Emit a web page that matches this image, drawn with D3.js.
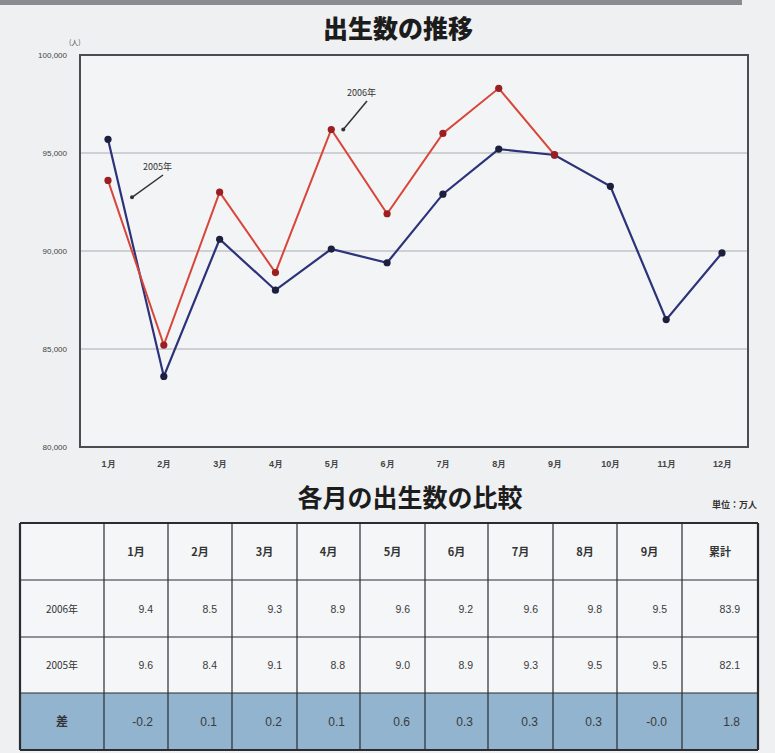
<!DOCTYPE html>
<html>
<head>
<meta charset="utf-8">
<script src="https://cdn.jsdelivr.net/npm/d3@7"></script>
<style>
  html, body { margin: 0; padding: 0; background: #eef0f2; }
  svg { display: block; font-family: "Noto Sans CJK JP", "Noto Sans", sans-serif; }
</style>
</head>
<body>
<svg id="chart" width="775" height="753"></svg>
<script>
// Monthly births (persons)
const months = ["1月","2月","3月","4月","5月","6月","7月","8月","9月","10月","11月","12月"];
const births2005 = [95700, 83600, 90600, 88000, 90100, 89400, 92900, 95200, 94900, 93300, 86500, 89900];
const births2006 = [93600, 85200, 93000, 88900, 96200, 91900, 96000, 98300, 94900];
const yTicks = [80000, 85000, 90000, 95000, 100000];

// Comparison table (10,000 persons)
const tableCols = ["1月","2月","3月","4月","5月","6月","7月","8月","9月","累計"];
const row2006 = ["9.4","8.5","9.3","8.9","9.6","9.2","9.6","9.8","9.5","83.9"];
const row2005 = ["9.6","8.4","9.1","8.8","9.0","8.9","9.3","9.5","9.5","82.1"];
const rowDiff = ["-0.2","0.1","0.2","0.1","0.6","0.3","0.3","0.3","-0.0","1.8"];
const rowLabels = ["2006年","2005年","差"];

const svg = d3.select("#chart");

// top rule
svg.append("rect").attr("x", 0).attr("y", 0).attr("width", 742).attr("height", 5).attr("fill", "#8a8c90");

// Title
svg.append("text").attr("x", 398).attr("y", 38).attr("text-anchor", "middle")
  .attr("font-size", 25).attr("font-weight", "900").attr("fill", "#1c1c1c").text("出生数の推移");

// Plot area
const plot = { left: 80, right: 748, top: 55, bottom: 447 };
const x = d3.scalePoint().domain(months).range([108, 722]);
const y = d3.scaleLinear().domain([80000, 100000]).range([plot.bottom, plot.top]);

svg.append("rect").attr("x", plot.left).attr("y", plot.top)
  .attr("width", plot.right - plot.left).attr("height", plot.bottom - plot.top)
  .attr("fill", "#f3f4f6");

// gridlines
svg.append("g").selectAll("line").data(yTicks.filter(d => d > 80000 && d < 100000)).join("line")
  .attr("x1", plot.left).attr("x2", plot.right)
  .attr("y1", d => y(d)).attr("y2", d => y(d))
  .attr("stroke", "#a9abb0").attr("stroke-width", 1.2);

// frame
svg.append("rect").attr("x", plot.left).attr("y", plot.top)
  .attr("width", plot.right - plot.left).attr("height", plot.bottom - plot.top)
  .attr("fill", "none").attr("stroke", "#4a4c50").attr("stroke-width", 2);

// y axis labels
const yAxis = d3.axisLeft(y).tickValues(yTicks).tickFormat(d3.format(",")).tickSize(0).tickPadding(13);
const yg = svg.append("g").attr("transform", `translate(${plot.left},0)`).call(yAxis);
yg.select(".domain").remove();
yg.selectAll("text").attr("font-size", 8).attr("fill", "#444").attr("font-family", "Liberation Sans, Arial, sans-serif");
svg.append("text").attr("x", 69).attr("y", 45).attr("font-size", 7).attr("fill", "#555").text("(人)");

// x axis labels
const xAxis = d3.axisBottom(x).tickSize(0).tickPadding(14);
const xg = svg.append("g").attr("transform", `translate(0,${plot.bottom})`).call(xAxis);
xg.select(".domain").remove();
xg.selectAll("text").attr("font-size", 9).attr("font-weight", "bold").attr("fill", "#444");

// lines
const line = d3.line().x((d, i) => x(months[i])).y(d => y(d));
svg.append("path").datum(births2005).attr("d", line).attr("fill", "none")
  .attr("stroke", "#2c3378").attr("stroke-width", 2.2);
svg.append("path").datum(births2006).attr("d", line).attr("fill", "none")
  .attr("stroke", "#d8463a").attr("stroke-width", 2);

svg.append("g").selectAll("circle").data(births2005).join("circle")
  .attr("cx", (d, i) => x(months[i])).attr("cy", d => y(d)).attr("r", 3.6).attr("fill", "#1d1f3e");
svg.append("g").selectAll("circle").data(births2006).join("circle")
  .attr("cx", (d, i) => x(months[i])).attr("cy", d => y(d)).attr("r", 3.6).attr("fill", "#9a1f22");

// series call-outs
function callout(label, tx, ty, idx, series, dx, dy) {
  const px = x(months[idx]) + dx, py = y(series[idx]) + dy;
  svg.append("text").attr("x", tx).attr("y", ty).attr("font-size", 9).attr("fill", "#333").text(label);
  svg.append("line").attr("x1", tx + 20).attr("y1", ty + 5).attr("x2", px).attr("y2", py)
    .attr("stroke", "#333").attr("stroke-width", 1.5);
  svg.append("circle").attr("cx", px).attr("cy", py).attr("r", 2).attr("fill", "#333");
}
callout("2006年", 347, 96, 4, births2006, 12, 0);
callout("2005年", 143, 170, 0, births2005, 24, 58);

// Table heading
svg.append("text").attr("x", 410).attr("y", 507).attr("text-anchor", "middle")
  .attr("font-size", 25).attr("font-weight", "bold").attr("fill", "#1c1c1c").text("各月の出生数の比較");
svg.append("text").attr("x", 757).attr("y", 508).attr("text-anchor", "end")
  .attr("font-size", 9).attr("font-weight", "bold").attr("fill", "#333").text("単位：万人");

// Table
const colEdges = [20, 104, 168, 232, 297, 360, 425, 488, 553, 617, 682, 758];
const rowEdges = [523, 580, 637, 693, 750];
const table = svg.append("g");
table.append("rect").attr("x", colEdges[0]).attr("y", rowEdges[0])
  .attr("width", colEdges[11] - colEdges[0]).attr("height", rowEdges[4] - rowEdges[0]).attr("fill", "#f5f6f8");
table.append("rect").attr("x", colEdges[0]).attr("y", rowEdges[3])
  .attr("width", colEdges[11] - colEdges[0]).attr("height", rowEdges[4] - rowEdges[3]).attr("fill", "#92b4cf");

table.selectAll(".v").data(colEdges).join("line")
  .attr("x1", d => d).attr("x2", d => d).attr("y1", rowEdges[0]).attr("y2", rowEdges[4])
  .attr("stroke", "#2a2c30").attr("stroke-width", (d, i) => (i === 0 || i === 11) ? 2.2 : 1.2);
table.selectAll(".h").data(rowEdges).join("line")
  .attr("x1", colEdges[0]).attr("x2", colEdges[11]).attr("y1", d => d).attr("y2", d => d)
  .attr("stroke", "#2a2c30").attr("stroke-width", (d, i) => (i === 0 || i === 4) ? 2.2 : 1.2);

const mid = (a, i) => (a[i] + a[i + 1]) / 2;
table.selectAll(".ch").data(tableCols).join("text")
  .attr("x", (d, i) => mid(colEdges, i + 1)).attr("y", mid(rowEdges, 0) + 4)
  .attr("text-anchor", "middle").attr("font-size", 11).attr("font-weight", "bold").attr("fill", "#333").text(d => d);

table.selectAll(".rl").data(rowLabels).join("text")
  .attr("x", mid(colEdges, 0)).attr("y", (d, i) => mid(rowEdges, i + 1) + 4)
  .attr("text-anchor", "middle").attr("font-size", d => d === "差" ? 12 : 10)
  .attr("font-weight", d => d === "差" ? "bold" : "normal").attr("fill", "#333").text(d => d);

[row2006, row2005, rowDiff].forEach((row, r) => {
  table.selectAll(".r" + r).data(row).join("text")
    .attr("x", (d, i) => colEdges[i + 2] - (i === 9 ? 18 : 15)).attr("y", mid(rowEdges, r + 1) + 4)
    .attr("text-anchor", "end").attr("font-size", r === 2 ? 12 : 10.5)
    .attr("fill", "#3a3a3a").attr("font-family", "Liberation Sans, Arial, sans-serif").text(d => d);
});
</script>
</body>
</html>
